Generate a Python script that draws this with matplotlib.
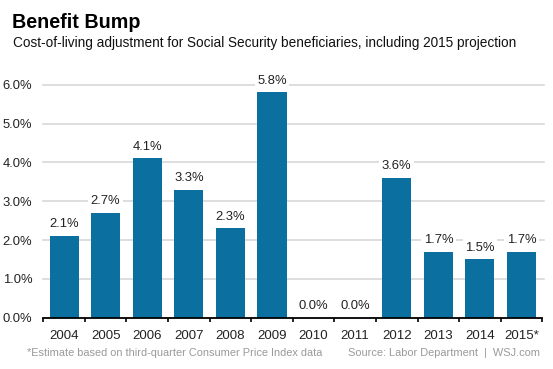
import matplotlib
matplotlib.use("Agg")
import matplotlib.pyplot as plt
import numpy as np

years = ["2004", "2005", "2006", "2007", "2008", "2009", "2010", "2011",
         "2012", "2013", "2014", "2015*"]
cola = [2.1, 2.7, 4.1, 3.3, 2.3, 5.8, 0.0, 0.0, 3.6, 1.7, 1.5, 1.7]
yticks = [0, 1, 2, 3, 4, 5, 6]
ytick_labels = ["0.0%", "1.0%", "2.0%", "3.0%", "4.0%", "5.0%", "6.0%"]

plt.rcParams['font.family'] = ['Liberation Sans', 'DejaVu Sans']

W, H = 553, 369
fig = plt.figure(figsize=(W / 100, H / 100), dpi=100)
ax = fig.add_axes([43.3 / W, 1 - 317.7 / H, 499 / W, 233 / H])

bar_color = "#0b6fa0"
x = np.arange(len(years))
ax.bar(x, cola, width=0.7, color=bar_color, zorder=2)

ax.set_xlim(-0.5, len(years) - 0.5)
ax.set_ylim(0, 6)

for y in yticks[1:]:
    ax.axhline(y, 0, 1.004, color="#d4d4d4", lw=1.1, zorder=1, clip_on=False)

for s in ["top", "right", "left"]:
    ax.spines[s].set_visible(False)
ax.spines["bottom"].set_color("black")
ax.spines["bottom"].set_linewidth(1.3)
ax.spines["bottom"].set_zorder(3)

ax.set_yticks(yticks)
ax.set_yticklabels(ytick_labels)
ax.tick_params(axis="y", length=0, pad=8, labelsize=9.4, labelcolor="#222222")

ax.set_xticks(x)
ax.set_xticklabels(years)
ax.set_xticks(np.arange(-0.5, len(years), 1.0), minor=True)
ax.tick_params(axis="x", which="major", length=0, pad=8.5, labelsize=9.5,
               labelcolor="#222222")
ax.tick_params(axis="x", which="minor", length=3.2, width=1.2, direction="out",
               color="black")

for xi, v in zip(x, cola):
    ax.annotate(f"{v:.1f}%", (xi, v), xytext=(0, 6.3), textcoords="offset points",
                ha="center", va="baseline", fontsize=9.4, color="#222222",
                zorder=4, annotation_clip=False,
                bbox=dict(boxstyle="square,pad=0.2", fc="white", ec="none"))

fig.text(12 / W, 1 - 28 / H, "Benefit Bump", fontsize=14.2, fontweight="bold",
         va="baseline", ha="left", color="black")
fig.text(13 / W, 1 - 46.6 / H,
         "Cost-of-living adjustment for Social Security beneficiaries, including 2015 projection",
         fontsize=9.85, va="baseline", ha="left", color="#111111")

fig.text(26.7 / W, 1 - 355.7 / H,
         "*Estimate based on third-quarter Consumer Price Index data",
         fontsize=7.9, va="baseline", ha="left", color="#9a9a9a")
fig.text(540 / W, 1 - 355.7 / H, "Source: Labor Department  |  WSJ.com",
         fontsize=7.9, va="baseline", ha="right", color="#9a9a9a")

fig.savefig("out.png", dpi=100, facecolor="white")
